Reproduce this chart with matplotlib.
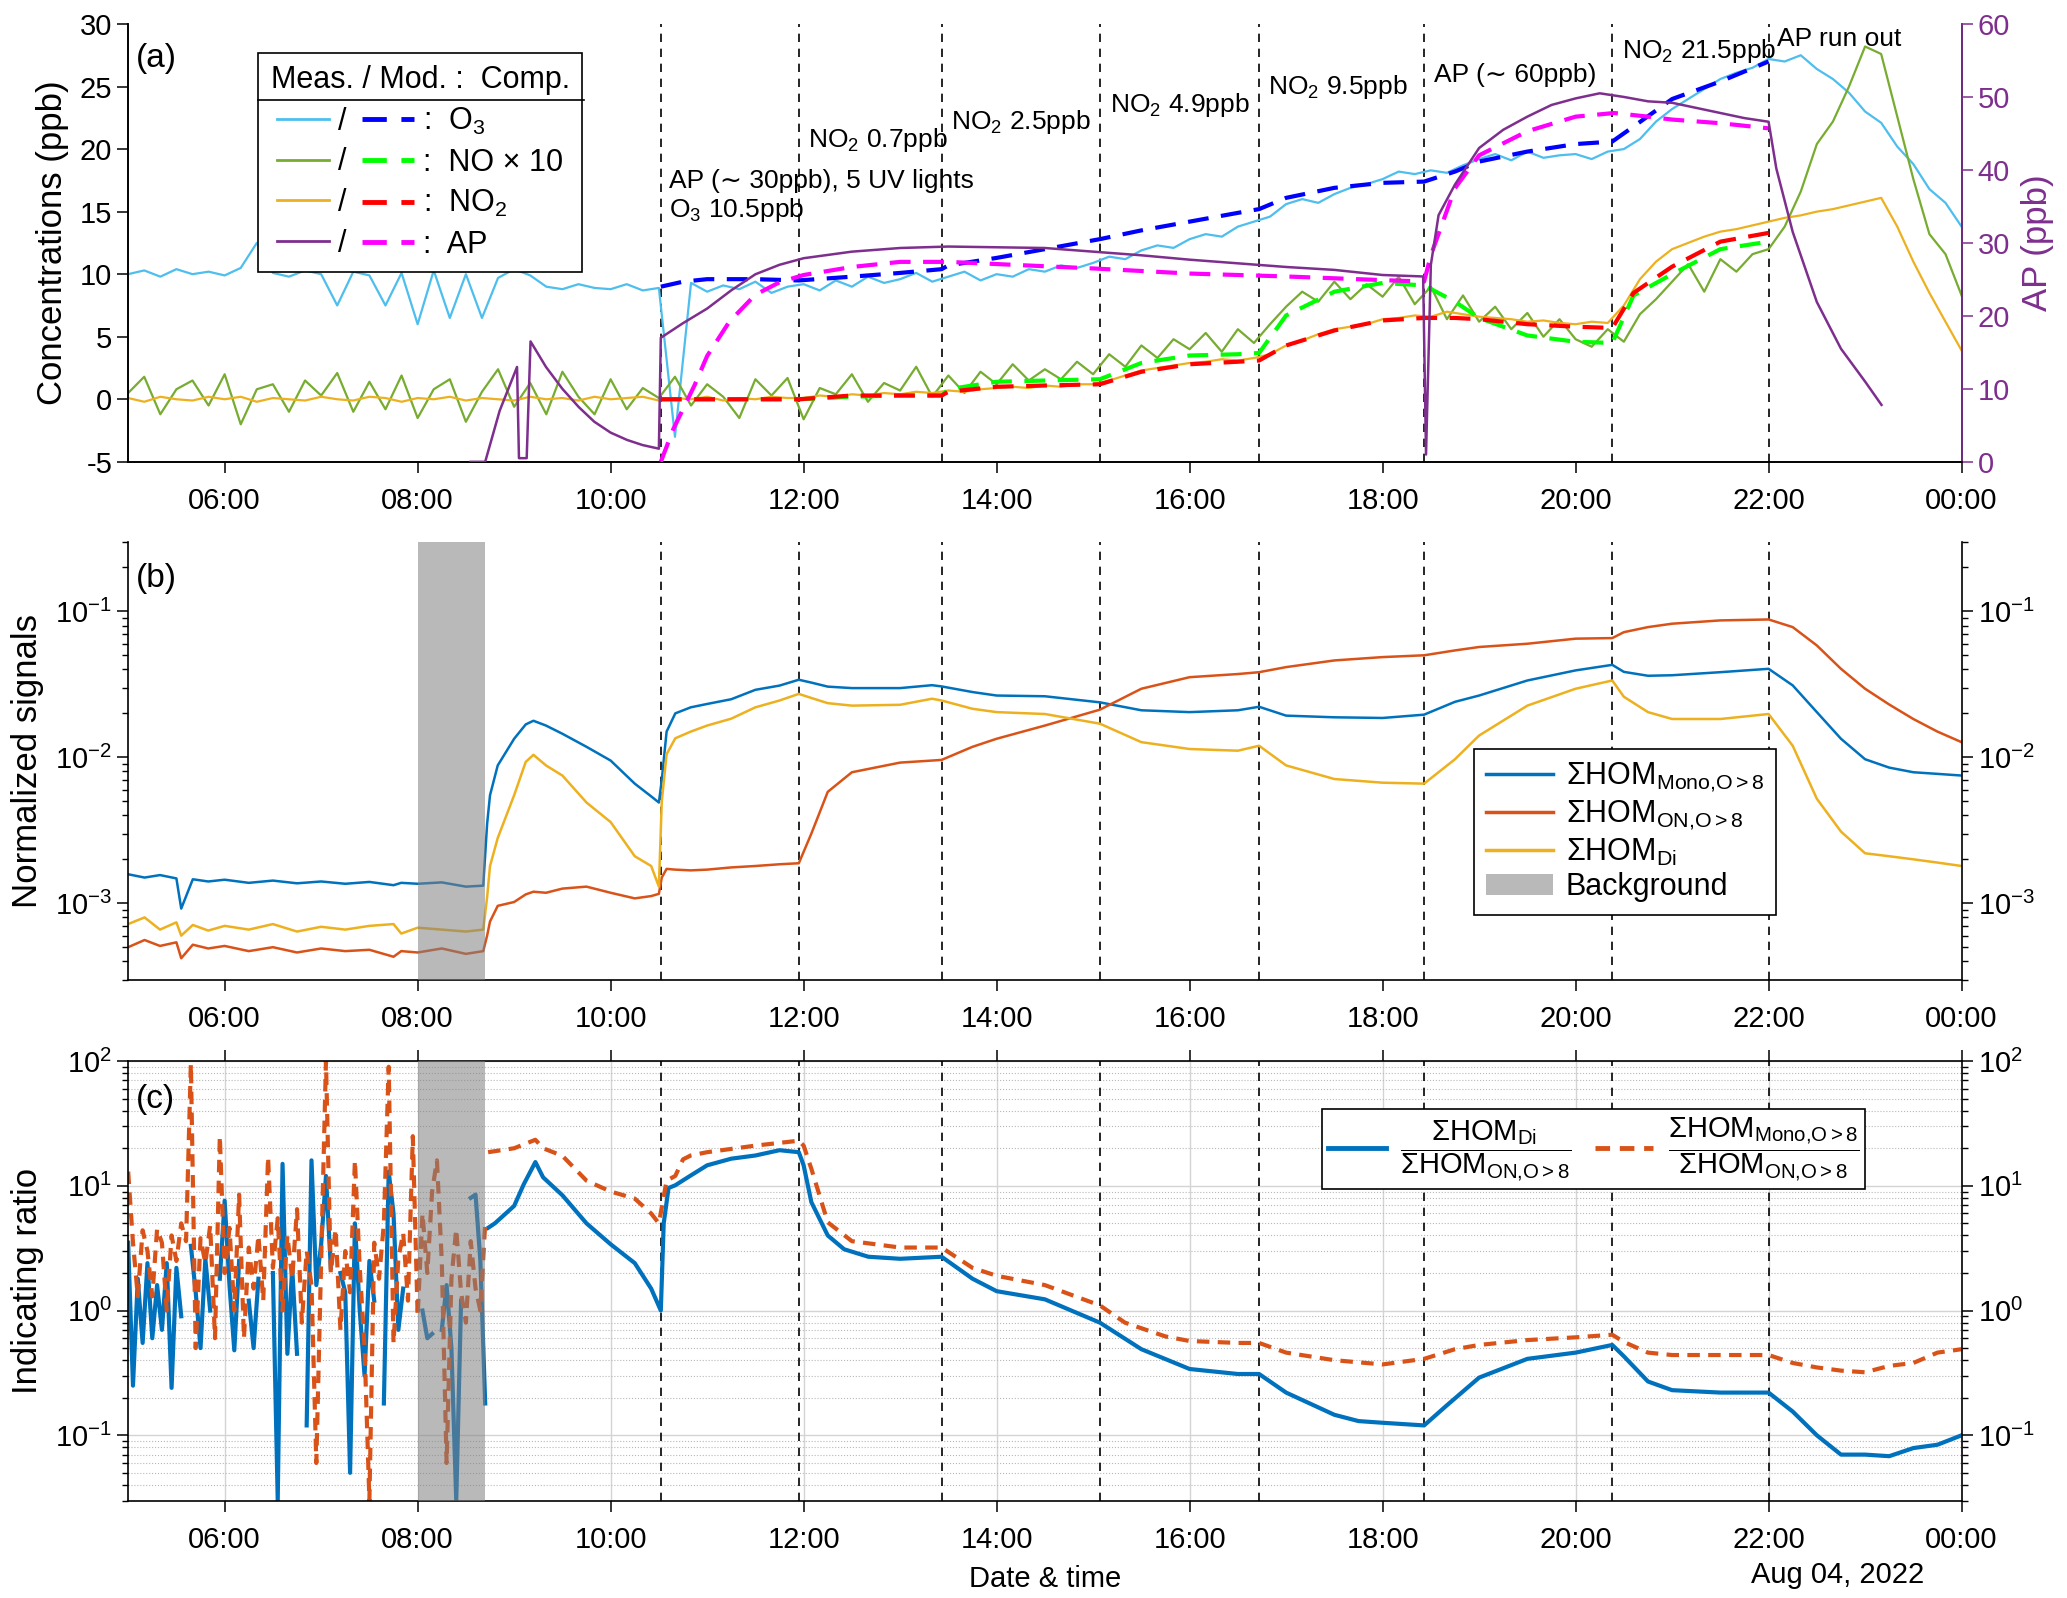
import numpy as np
import matplotlib
matplotlib.use("Agg")
import matplotlib.pyplot as plt
from matplotlib.lines import Line2D
from matplotlib.patches import Patch
from matplotlib.ticker import FixedLocator, FuncFormatter
from matplotlib.transforms import blended_transform_factory

plt.rcParams['font.family'] = ['Liberation Sans', 'DejaVu Sans']
plt.rcParams['mathtext.fontset'] = 'custom'
plt.rcParams['mathtext.rm'] = 'Liberation Sans'
plt.rcParams['mathtext.it'] = 'Liberation Sans:italic'
plt.rcParams['mathtext.bf'] = 'Liberation Sans:bold'
plt.rcParams['axes.linewidth'] = 1.2
plt.rcParams['axes.unicode_minus'] = False

# ---------------- data (time in hours of Aug 03, 24 = midnight) ----------------
event_times = [10.52, 11.95, 13.43, 15.07, 16.72, 18.43, 20.38, 22.0]
background = (8.0, 8.70)

# panel (a) measured, 10-min samples 05:00 .. 24:00
t_meas = np.arange(5.0, 24.0 + 1e-6, 1 / 6)
o3_meas = [10.0, 10.3, 9.8, 10.4, 10.0, 10.2,
           9.9, 10.5, 12.5, 10.1, 9.8, 10.3,
           10.0, 7.5, 10.2, 9.9, 7.5, 10.1,
           6.0, 10.3, 6.5, 10.0, 6.5, 9.7,
           10.4, 9.9, 9.0, 8.8, 9.2, 8.9,
           8.8, 9.2, 8.7, 8.9, -3.0, 9.3,
           8.6, 9.1, 8.8, 9.4, 8.5, 9.0,
           9.2, 8.7, 9.5, 9.0, 9.8, 9.3,
           9.6, 10.1, 9.4, 9.8, 10.2, 9.5,
           10.0, 9.8, 10.4, 10.2, 10.7, 10.5,
           10.9, 11.4, 11.2, 11.9, 12.3, 12.1,
           12.8, 13.2, 13.0, 13.8, 14.2, 14.6,
           15.6, 16.0, 15.7, 16.4, 16.9, 17.2,
           17.6, 18.2, 18.0, 18.3, 18.1, 18.7,
           19.2, 19.6, 19.1, 19.8, 19.3, 19.5,
           19.6, 19.2, 19.8, 20.0, 20.8, 22.2,
           23.2, 24.0, 24.8, 25.6, 26.1, 26.5,
           27.2, 27.0, 27.5, 26.4, 25.6, 24.5,
           23.0, 22.1, 20.2, 18.8, 16.8, 15.7,
           13.8]
no_meas = [0.5, 1.8, -1.2, 0.8, 1.5, -0.5,
           2.0, -2.0, 0.8, 1.2, -1.0, 1.5,
           0.3, 2.1, -1.0, 1.4, -0.8, 1.9,
           -1.5, 0.8, 1.6, -1.8, 0.6, 2.4,
           -0.6, 1.3, -1.2, 2.2, 0.2, -1.2,
           1.6, -0.8, 0.9, 0.1, 1.8, -0.5,
           1.2, 0.2, -1.5, 1.6, 0.3, 1.7,
           -1.6, 0.9, 0.4, 2.0, -0.2, 1.3,
           0.7, 2.6, 0.2, 1.9, 0.5, 2.2,
           1.2, 2.8, 1.5, 2.4, 1.6, 3.0,
           2.0, 3.6, 2.6, 4.3, 3.3, 4.8,
           4.0, 5.3, 3.8, 5.6, 4.5, 6.0,
           7.4, 8.6, 7.8, 9.4, 8.0, 9.2,
           8.2, 9.8, 7.6, 9.0, 6.4, 8.3,
           6.2, 7.4, 5.6, 6.9, 5.0, 6.4,
           4.8, 4.2, 5.6, 4.6, 6.8, 8.0,
           9.4, 10.8, 8.6, 11.2, 10.2, 11.6,
           12.0, 13.8, 16.6, 20.4, 22.2, 25.0,
           28.2, 27.6, 22.6, 17.6, 13.2, 11.6,
           8.3]
no2_meas = [0.1, -0.2, 0.2, 0.0, -0.1, 0.2,
            0.0, 0.2, -0.2, 0.1, 0.0, -0.1,
            0.2, 0.0, -0.1, 0.2, 0.1, -0.2,
            0.1, 0.0, 0.2, -0.1, 0.1, 0.0,
            -0.1, 0.2, 0.0, 0.1, -0.1, 0.2,
            0.0, 0.1, 0.2, -0.1, 0.1, 0.0,
            0.2, -0.1, 0.1, 0.0, 0.2, 0.1,
            0.1, 0.3, 0.2, 0.4, 0.3, 0.5,
            0.4, 0.6, 0.5, 0.7, 0.6, 0.8,
            0.9, 1.0, 0.9, 1.1, 1.0, 1.2,
            1.2, 1.5, 1.9, 2.3, 2.5, 2.7,
            2.9, 3.0, 3.2, 3.1, 3.3, 3.6,
            4.3, 4.7, 5.2, 5.6, 5.8, 6.0,
            6.4, 6.5, 6.7, 6.6, 7.0, 6.8,
            6.6, 6.5, 6.4, 6.2, 6.3, 6.1,
            6.0, 6.2, 6.1, 7.5, 9.6, 11.0,
            12.0, 12.5, 13.0, 13.4, 13.6, 13.9,
            14.2, 14.5, 14.7, 15.0, 15.2, 15.5,
            15.8, 16.1, 13.8, 11.0, 8.5, 6.2,
            3.9]

t_ap = [8.55, 8.70, 8.85, 9.03, 9.05, 9.13, 9.17, 9.33, 9.5, 9.67, 9.83, 10.0,
        10.17, 10.33, 10.5, 10.52, 10.75, 11.0, 11.25, 11.5, 11.75, 12.0, 12.5,
        13.0, 13.5, 14.0, 14.5, 15.0, 15.5, 16.0, 16.5, 17.0, 17.5, 18.0, 18.42,
        18.45, 18.5, 18.58, 18.75, 19.0, 19.25, 19.5, 19.75, 20.0, 20.25, 20.5,
        20.75, 21.0, 21.25, 21.5, 21.75, 22.0, 22.08, 22.25, 22.5, 22.75, 23.0,
        23.17]
ap_meas = [0.0, 0.0, 7.0, 13.0, 0.5, 0.5, 16.5, 13.0, 10.0, 7.5, 5.5, 4.0,
           3.0, 2.3, 1.8, 17.0, 19.0, 21.0, 23.5, 25.7, 27.0, 27.9, 28.8,
           29.3, 29.5, 29.4, 29.3, 28.8, 28.3, 27.7, 27.2, 26.7, 26.3, 25.6, 25.4,
           1.0, 27.0, 33.8, 38.0, 43.0, 45.5, 47.3, 48.9, 49.8, 50.5, 50.0,
           49.4, 49.2, 48.5, 47.8, 47.1, 46.6, 40.2, 31.5, 21.9, 15.5, 11.0,
           7.8]

# panel (a) model
t_mod = [10.52, 10.75, 11.0, 11.5, 11.95, 12.5, 13.0, 13.43, 13.5, 14.0, 14.5,
         15.07, 15.5, 16.0, 16.5, 16.72, 17.0, 17.5, 18.0, 18.43, 18.75, 19.0,
         19.5, 20.0, 20.38, 20.6, 21.0, 21.5, 22.0]
o3_mod = [9.0, 9.4, 9.6, 9.6, 9.5, 9.8, 10.1, 10.4, 10.7, 11.3, 12.0,
          12.8, 13.5, 14.2, 14.9, 15.2, 16.1, 16.9, 17.3, 17.4, 18.2, 19.0,
          19.8, 20.4, 20.6, 21.8, 24.0, 25.4, 27.0]
no_mod = [0.0, 0.0, 0.0, 0.0, 0.0, 0.2, 0.3, 0.3, 0.8, 1.4, 1.5,
          1.6, 2.9, 3.5, 3.6, 3.7, 6.7, 8.6, 9.3, 9.1, 7.8, 6.5,
          5.1, 4.6, 4.5, 8.3, 10.0, 12.0, 12.6]
no2_mod = [0.0, 0.0, 0.0, 0.0, 0.0, 0.3, 0.3, 0.3, 0.6, 1.0, 1.1,
           1.2, 2.2, 2.8, 3.0, 3.1, 4.3, 5.5, 6.3, 6.5, 6.5, 6.4,
           6.0, 5.8, 5.7, 8.5, 10.6, 12.6, 13.3]
t_ap_mod = [10.52, 10.65, 10.87, 11.0, 11.23, 11.5, 11.75, 12.0, 12.5, 13.0,
            13.5, 14.0, 15.0, 16.0, 17.0, 18.0, 18.43, 18.5, 18.75, 19.0, 19.5,
            20.0, 20.4, 20.75, 21.0, 21.5, 22.0]
ap_mod = [0.0, 4.5, 10.5, 14.5, 19.2, 22.9, 24.6, 25.6, 26.7, 27.4,
          27.4, 27.1, 26.5, 25.8, 25.4, 24.9, 24.7, 28.3, 37.5, 42.0, 45.3,
          47.3, 47.8, 47.3, 46.9, 46.4, 45.7]

# panel (b) normalized HOM signals
t_hom = [5.0, 5.17, 5.33, 5.5, 5.55, 5.67, 5.83, 6.0, 6.25, 6.5, 6.75, 7.0, 7.25,
         7.5, 7.75, 7.83, 8.0, 8.25, 8.5, 8.68, 8.72, 8.75, 8.83, 9.0, 9.12, 9.2,
         9.33, 9.5, 9.75, 10.0, 10.25, 10.42, 10.5, 10.53, 10.58, 10.67, 10.83,
         11.0, 11.25, 11.5, 11.75, 11.95, 12.08, 12.25, 12.5, 13.0, 13.33, 13.43,
         13.75, 14.0, 14.5, 15.07, 15.5, 16.0, 16.5, 16.72, 17.0, 17.5, 18.0,
         18.43, 18.75, 19.0, 19.5, 20.0, 20.38, 20.5, 20.75, 21.0, 21.5, 22.0,
         22.25, 22.5, 22.75, 23.0, 23.25, 23.5, 23.75, 24.0]
hom_mono = [0.00158, 0.00150, 0.00156, 0.00148, 0.00092, 0.00146, 0.00141,
            0.00145, 0.00138, 0.00143, 0.00137, 0.00141, 0.00136, 0.00140,
            0.00133, 0.00138, 0.00136, 0.00139, 0.00130, 0.00132, 0.0035,
            0.0055, 0.0088, 0.0134, 0.0168, 0.0178, 0.0165, 0.0145, 0.0118,
            0.0095, 0.0066, 0.0054, 0.0049, 0.0070, 0.0150, 0.0200, 0.0220,
            0.0232, 0.0250, 0.0290, 0.0310, 0.0340, 0.0325, 0.0305, 0.0298,
            0.0298, 0.0312, 0.0306, 0.0280, 0.0265, 0.0262, 0.0238, 0.0210,
            0.0204, 0.0210, 0.0222, 0.0193, 0.0188, 0.0186, 0.0196, 0.0240,
            0.0265, 0.0336, 0.0394, 0.0430, 0.0385, 0.0362, 0.0365, 0.0383,
            0.0404, 0.0311, 0.0204, 0.0134, 0.0097, 0.0085, 0.0079, 0.0077,
            0.0075]
hom_on = [0.00050, 0.00056, 0.00051, 0.00054, 0.00042, 0.00052, 0.00049,
          0.00051, 0.00047, 0.00050, 0.00046, 0.00049, 0.00047, 0.00048,
          0.00043, 0.00047, 0.00046, 0.00049, 0.00045, 0.00047, 0.00060,
          0.00075, 0.00096, 0.00102, 0.00115, 0.00120, 0.00118, 0.00126,
          0.00130, 0.00118, 0.00108, 0.00112, 0.00116, 0.00150, 0.00172,
          0.00170, 0.00168, 0.00170, 0.00176, 0.00180, 0.00185, 0.00188,
          0.0030, 0.0058, 0.0079, 0.0092, 0.0095, 0.0096, 0.0118, 0.0134,
          0.0165, 0.0212, 0.0295, 0.0354, 0.0372, 0.0383, 0.0415, 0.0461,
          0.0486, 0.0500, 0.0540, 0.0570, 0.0600, 0.0650, 0.0656, 0.0720,
          0.0780, 0.0823, 0.0867, 0.0880, 0.0780, 0.0584, 0.0404, 0.0295,
          0.0230, 0.0183, 0.0150, 0.0127]
hom_di = [0.00072, 0.00080, 0.00066, 0.00074, 0.00060, 0.00071, 0.00065,
          0.00070, 0.00066, 0.00072, 0.00064, 0.00069, 0.00066, 0.00070,
          0.00072, 0.00062, 0.00068, 0.00066, 0.00064, 0.00066, 0.0011,
          0.0018, 0.0028, 0.0055, 0.0093, 0.0104, 0.0088, 0.0075, 0.0049,
          0.0036, 0.0021, 0.0018, 0.0013, 0.0050, 0.0105, 0.0135, 0.0150,
          0.0165, 0.0184, 0.0220, 0.0245, 0.0272, 0.0255, 0.0235, 0.0226,
          0.0229, 0.0252, 0.0245, 0.0215, 0.0204, 0.0198, 0.0170, 0.0127,
          0.0114, 0.0111, 0.0120, 0.0088, 0.0071, 0.0067, 0.0066, 0.0097,
          0.0141, 0.0226, 0.0295, 0.0336, 0.0260, 0.0204, 0.0183, 0.0183,
          0.0198, 0.0120, 0.0052, 0.0031, 0.0022, 0.0021, 0.0020, 0.0019,
          0.0018]

# panel (c) ratios; noisy 3-min part before the background, then smoother part
nan = np.nan
t_early = np.arange(5.0, 8.70 + 1e-6, 0.05)
di_on_early = [3.5, 0.25, 1.8, 0.55, 2.4, 0.6, 1.6, 0.7, 2.4, 0.24,
               2.2, 0.9, nan, 3.3, 1.4, 0.5, 2.6, 1.0, nan, 1.8,
               7.6, 1.6, 0.48, 2.5, nan, 1.2, 0.5, 1.8, nan, nan,
               2.0, 0.03, 15.0, 0.45, 2.2, 0.45, nan, 0.12, 16.0, 1.6,
               3.4, 12.0, 2.2, nan, 2.0, 1.4, 0.05, 5.0, 1.0, 0.3,
               2.5, 1.2, nan, 0.18, 13.0, 6.0, 0.7, 1.5, nan, 1.3,
               nan, 1.0, 0.6, 0.65, nan, 0.7, 1.6, 0.5, 0.03, 1.2,
               nan, 8.0, 8.5, 2.5, 0.18]
mono_on_early = [13.0, 3.5, 1.3, 4.4, 3.0, 1.3, 4.5, 3.5, 1.0, 4.0,
                 2.5, 5.0, 3.6, 95.0, 0.5, 3.8, 2.4, 4.8, 0.6, 25.0,
                 2.0, 4.6, 1.0, 8.5, 0.6, 3.2, 1.5, 4.0, 1.2, 17.0,
                 2.2, 5.5, 1.0, 4.0, 1.8, 6.5, 0.8, 3.0, 1.6, 0.06,
                 2.5, 100.0, 2.0, 4.5, 0.7, 3.0, 1.4, 16.0, 2.2, 0.5,
                 0.03, 3.5, 1.8, 5.0, 90.0, 0.55, 2.6, 4.2, 1.2, 25.0,
                 0.9, 6.0, 2.0, 9.0, 16.0, 2.5, 0.06, 1.8, 4.5, 1.4,
                 0.8, 3.6, 1.5, 1.0, 5.0]
t_di_late = [8.73, 8.8, 9.0, 9.1, 9.22, 9.3, 9.5, 9.75, 10.0, 10.25, 10.42, 10.52,
             10.55, 10.6, 10.67, 10.83, 11.0, 11.25, 11.5, 11.75, 11.95, 12.0,
             12.08, 12.25, 12.42, 12.67, 13.0, 13.43, 13.75, 14.0, 14.5, 15.07,
             15.5, 16.0, 16.5, 16.72, 17.0, 17.5, 17.75, 18.0, 18.43, 18.67, 19.0,
             19.5, 20.0, 20.38, 20.5, 20.75, 21.0, 21.5, 22.0, 22.25, 22.5, 22.75,
             23.0, 23.25, 23.5, 23.75, 24.0]
di_on_late = [4.6, 5.0, 6.9, 10.3, 15.5, 11.7, 8.4, 5.0, 3.4, 2.4, 1.5, 1.0,
              5.0, 9.6, 10.1, 12.1, 14.6, 16.5, 17.5, 19.3, 18.6, 14.6,
              7.4, 4.0, 3.1, 2.7, 2.6, 2.7, 1.8, 1.43, 1.23, 0.8,
              0.49, 0.34, 0.31, 0.31, 0.22, 0.146, 0.13, 0.126, 0.12, 0.175, 0.29,
              0.41, 0.46, 0.53, 0.43, 0.27, 0.23, 0.22, 0.22, 0.155, 0.10, 0.07,
              0.07, 0.068, 0.079, 0.084, 0.10]
t_mono_late = [8.73, 9.0, 9.22, 9.3, 9.5, 9.75, 10.0, 10.25, 10.42, 10.5, 10.58,
               10.67, 10.75, 10.83, 11.0, 11.5, 11.95, 12.0, 12.08, 12.25, 12.5,
               13.0, 13.43, 13.75, 14.0, 14.5, 15.07, 15.33, 15.75, 16.0, 16.5,
               16.72, 17.0, 17.5, 18.0, 18.43, 18.75, 19.0, 19.5, 20.0, 20.38,
               20.5, 20.75, 21.0, 21.5, 22.0, 22.25, 22.5, 22.75, 23.0, 23.25,
               23.5, 23.75, 24.0]
mono_on_late = [18.6, 20.0, 23.4, 20.0, 17.4, 11.0, 9.0, 7.9, 6.0, 5.0, 11.0,
                12.0, 16.3, 17.5, 18.6, 21.0, 23.0, 21.0, 13.7, 5.1, 3.6,
                3.2, 3.2, 2.2, 1.9, 1.6, 1.1, 0.8, 0.62, 0.57, 0.55,
                0.55, 0.46, 0.40, 0.37, 0.41, 0.49, 0.53, 0.58, 0.61, 0.64,
                0.56, 0.46, 0.44, 0.44, 0.44, 0.38, 0.35, 0.33, 0.32, 0.36,
                0.38, 0.46, 0.49]

annot_x = [10.6, 10.6, 12.05, 13.53, 15.18, 16.81, 18.53, 20.48, 22.09]
annot_y = [17.3, 15.0, 20.6, 22.0, 23.4, 24.8, 25.8, 27.7, 28.6]
annot_txt = ['AP (\u223c 30ppb), 5 UV lights', 'O$_3$ 10.5ppb', 'NO$_2$ 0.7ppb',
             'NO$_2$ 2.5ppb', 'NO$_2$ 4.9ppb', 'NO$_2$ 9.5ppb',
             'AP (\u223c 60ppb)', 'NO$_2$ 21.5ppb', 'AP run out']

# ---------------- style ----------------
C_O3, C_O3M = '#4DBEEE', '#0000FF'
C_NO, C_NOM = '#77AC30', '#00FF00'
C_NO2, C_NO2M = '#EDB120', '#FF0000'
C_AP, C_APM = '#7E2F8E', '#FF00FF'
C_MONO, C_ON, C_DI = '#0072BD', '#D95319', '#EDB120'
TICK = 21
LAB = 25
MOD_LS = (0, (5, 3))
EV_LS = (0, (5, 4))

fig = plt.figure(figsize=(20.67, 15.98), dpi=100)
ax1 = fig.add_axes([0.062, 0.711, 0.887, 0.274])
ax2 = fig.add_axes([0.062, 0.387, 0.887, 0.274])
ax3 = fig.add_axes([0.062, 0.061, 0.887, 0.275])

hour_fmt = FuncFormatter(lambda h, pos: '%02d:00' % (int(round(h)) % 24))
for ax in (ax1, ax2, ax3):
    ax.set_xlim(5, 24)
    ax.xaxis.set_major_locator(FixedLocator(list(range(6, 25, 2))))
    ax.xaxis.set_major_formatter(hour_fmt)
    ax.tick_params(which='major', labelsize=TICK, length=8, width=1.1, direction='out')
    ax.tick_params(which='minor', length=4, width=1.0, direction='out')
    ax.tick_params(axis='x', pad=10)
    for t in event_times:
        ax.axvline(t, color='k', lw=1.2, ls=EV_LS, zorder=1)

# ---------------- panel (a) ----------------
ax1.plot(t_meas, o3_meas, color=C_O3, lw=1.6, zorder=2)
ax1.plot(t_meas, no_meas, color=C_NO, lw=1.6, zorder=2)
ax1.plot(t_meas, no2_meas, color=C_NO2, lw=1.6, zorder=2)
ax1.plot(t_mod, o3_mod, color=C_O3M, lw=3, ls=MOD_LS, zorder=3)
ax1.plot(t_mod, no_mod, color=C_NOM, lw=3, ls=MOD_LS, zorder=3)
ax1.plot(t_mod, no2_mod, color=C_NO2M, lw=3, ls=MOD_LS, zorder=3)
ax1.set_ylim(-5, 30)
ax1.set_yticks(range(-5, 31, 5))
ax1.set_ylabel('Concentrations (ppb)', fontsize=LAB, labelpad=8)
ax1.spines['top'].set_visible(False)

ax1r = ax1.twinx()
ax1r.plot(t_ap, ap_meas, color=C_AP, lw=1.8, zorder=4)
ax1r.plot(t_ap_mod, ap_mod, color=C_APM, lw=3, ls=MOD_LS, zorder=3)
ax1r.set_ylim(0, 60)
ax1r.set_yticks(range(0, 61, 10))
ax1r.tick_params(axis='y', labelsize=TICK, length=8, width=1.1, colors=C_AP)
ax1r.spines['right'].set_color(C_AP)
ax1r.spines['top'].set_visible(False)
ax1r.set_ylabel('AP (ppb)', fontsize=LAB, color=C_AP, labelpad=8)

for x, y, s in zip(annot_x, annot_y, annot_txt):
    ax1.text(x, y - 0.4, s, fontsize=19, ha='left', va='baseline', zorder=6)
ax1.text(0.004, 0.92, '(a)', transform=ax1.transAxes, fontsize=24, va='center')

solid = [Line2D([], [], color=c, lw=2) for c in (C_O3, C_NO, C_NO2, C_AP)]
dashed = [Line2D([], [], color=c, lw=3.5, ls=MOD_LS) for c in (C_O3M, C_NOM, C_NO2M, C_APM)]
labels = ['/'] * 4 + [':  O$_3$', ':  NO \u00d7 10', ':  NO$_2$', ':  AP']
leg1 = ax1r.legend(solid + dashed, labels, ncol=2, loc='upper left',
                   bbox_to_anchor=(0.071, 0.934), borderaxespad=0,
                   fontsize=22, title='Meas. / Mod. :  Comp.', title_fontsize=22,
                   handlelength=1.7, handletextpad=0.3, columnspacing=0.5,
                   labelspacing=0.35, fancybox=False, edgecolor='k', framealpha=1)
leg1.get_frame().set_linewidth(1.2)
leg1.set_zorder(10)
# separator line between the legend title and its rows
ax1r.plot([0.071, 0.2487], [0.826, 0.826], color='k', lw=1.2,
          transform=ax1r.transAxes, clip_on=False, zorder=11)

# ---------------- panel (b) ----------------
ax2.plot(t_hom, hom_mono, color=C_MONO, lw=1.8, zorder=2)
ax2.plot(t_hom, hom_on, color=C_ON, lw=1.8, zorder=2)
ax2.plot(t_hom, hom_di, color=C_DI, lw=1.8, zorder=2)
ax2.axvspan(*background, facecolor='#808080', alpha=0.55, lw=0, zorder=3)
ax2.set_yscale('log')
ax2.set_ylim(3e-4, 3e-1)
ax2.set_ylabel('Normalized signals', fontsize=LAB, labelpad=8)
ax2.spines['top'].set_visible(False)
ax2.tick_params(axis='y', which='both', right=True, labelright=True)
ax2.text(0.004, 0.915, '(b)', transform=ax2.transAxes, fontsize=24, va='center')
h2 = [Line2D([], [], color=C_MONO, lw=2.5), Line2D([], [], color=C_ON, lw=2.5),
      Line2D([], [], color=C_DI, lw=2.5), Patch(facecolor='#b9b9b9', edgecolor='none')]
l2 = ['\u03a3HOM$_{\\mathrm{Mono{,}O{>}8}}$', '\u03a3HOM$_{\\mathrm{ON{,}O{>}8}}$',
      '\u03a3HOM$_{\\mathrm{Di}}$', 'Background']
leg2 = ax2.legend(h2, l2, loc='upper left', bbox_to_anchor=(0.734, 0.527),
                  borderaxespad=0, fontsize=22, handlelength=2.2, handletextpad=0.4,
                  labelspacing=0.15, fancybox=False, edgecolor='k', framealpha=1)
leg2.get_frame().set_linewidth(1.2)

# ---------------- panel (c) ----------------
ax3.set_axisbelow(True)
ax3.grid(True, which='major', color='#d4d4d4', lw=1.0)
ax3.grid(True, which='minor', axis='y', color='#b8b8b8', lw=0.8, ls=':')
ax3.plot(t_early, di_on_early, color=C_MONO, lw=3, zorder=2)
ax3.plot(t_di_late, di_on_late, color=C_MONO, lw=3, zorder=2)
ax3.plot(t_early, mono_on_early, color=C_ON, lw=3, ls=(0, (3, 2)), zorder=2)
ax3.plot(t_mono_late, mono_on_late, color=C_ON, lw=3, ls=(0, (3, 2)), zorder=2)
ax3.axvspan(*background, facecolor='#808080', alpha=0.55, lw=0, zorder=3)
ax3.set_yscale('log')
ax3.set_ylim(0.03, 100)
ax3.set_ylabel('Indicating ratio', fontsize=LAB, labelpad=8)
ax3.tick_params(axis='y', which='both', right=True, labelright=True)
ax3.tick_params(axis='x', which='both', top=True)
ax3.set_xlabel('Date & time', fontsize=TICK, labelpad=8)
ax3.text(22.72, -0.17, 'Aug 04, 2022', fontsize=TICK, ha='center', va='center',
         transform=blended_transform_factory(ax3.transData, ax3.transAxes))
ax3.text(0.004, 0.913, '(c)', transform=ax3.transAxes, fontsize=24, va='center')
h3 = [Line2D([], [], color=C_MONO, lw=3.5), Line2D([], [], color=C_ON, lw=3.5, ls=(0, (3, 2)))]
l3 = [r'$\dfrac{\Sigma\mathrm{HOM}_{\mathrm{Di}}}{\Sigma\mathrm{HOM}_{\mathrm{ON{,}O{>}8}}}$',
      r'$\dfrac{\Sigma\mathrm{HOM}_{\mathrm{Mono{,}O{>}8}}}{\Sigma\mathrm{HOM}_{\mathrm{ON{,}O{>}8}}}$']
leg3 = ax3.legend(h3, l3, ncol=2, loc='upper left', bbox_to_anchor=(0.651, 0.89),
                  borderaxespad=0, fontsize=21, handlelength=2.0, handletextpad=0.5,
                  columnspacing=0.8, borderpad=0.2, fancybox=False, edgecolor='k',
                  framealpha=1)
leg3.get_frame().set_linewidth(1.2)

fig.savefig('out.png', dpi=100)
